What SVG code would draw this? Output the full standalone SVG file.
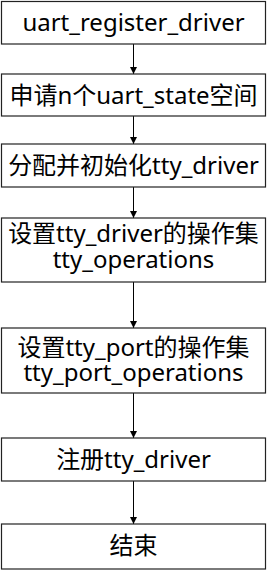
<svg xmlns="http://www.w3.org/2000/svg" width="268" height="571" viewBox="0 0 268 571">
<defs>
<marker id="arr" markerWidth="8" markerHeight="8" refX="7" refY="4" orient="auto" markerUnits="userSpaceOnUse">
<path d="M0,0.5 L7,4 L0,7.5 Z" fill="#000"/>
</marker>
<style>
.box{fill:#fff;stroke:#222;stroke-width:1.2}
.t{font-family:"Noto Sans","Noto Sans CJK SC",sans-serif;font-size:24px;fill:#000;text-anchor:middle}
.c{stroke:#000;stroke-width:1;fill:none;marker-end:url(#arr)}
</style>
</defs>
<rect width="268" height="571" fill="#fff"/>
<g id="connectors">
<line class="c" x1="133.5" y1="44" x2="133.5" y2="74"/>
<line class="c" x1="133.5" y1="116" x2="133.5" y2="144"/>
<line class="c" x1="133.5" y1="187" x2="133.5" y2="218"/>
<line class="c" x1="133.5" y1="282" x2="133.5" y2="328"/>
<line class="c" x1="133.5" y1="393" x2="133.5" y2="438"/>
<line class="c" x1="133.5" y1="481" x2="133.5" y2="524"/>
</g>
<g id="n1"><rect class="box" x="1.5" y="1.5" width="264" height="42.5"/><text class="t" x="133.5" y="31">uart_register_driver</text></g>
<g id="n2"><rect class="box" x="1.5" y="74" width="264" height="42"/><text class="t" x="133.5" y="103.5">申请n个uart_state空间</text></g>
<g id="n3"><rect class="box" x="1.5" y="144" width="264" height="43"/><text class="t" x="133.5" y="174">分配并初始化tty_driver</text></g>
<g id="n4"><rect class="box" x="1.5" y="218" width="264" height="64"/><text class="t" x="133.5" y="242">设置tty_driver的操作集</text><text class="t" x="133.5" y="268">tty_operations</text></g>
<g id="n5"><rect class="box" x="1.5" y="328" width="264" height="65"/><text class="t" x="133.5" y="356">设置tty_port的操作集</text><text class="t" x="133.5" y="381">tty_port_operations</text></g>
<g id="n6"><rect class="box" x="1.5" y="438" width="264" height="43"/><text class="t" x="133.5" y="468">注册tty_driver</text></g>
<g id="n7"><rect class="box" x="1.5" y="524" width="264" height="45"/><text class="t" x="133.5" y="554">结束</text></g>
</svg>
